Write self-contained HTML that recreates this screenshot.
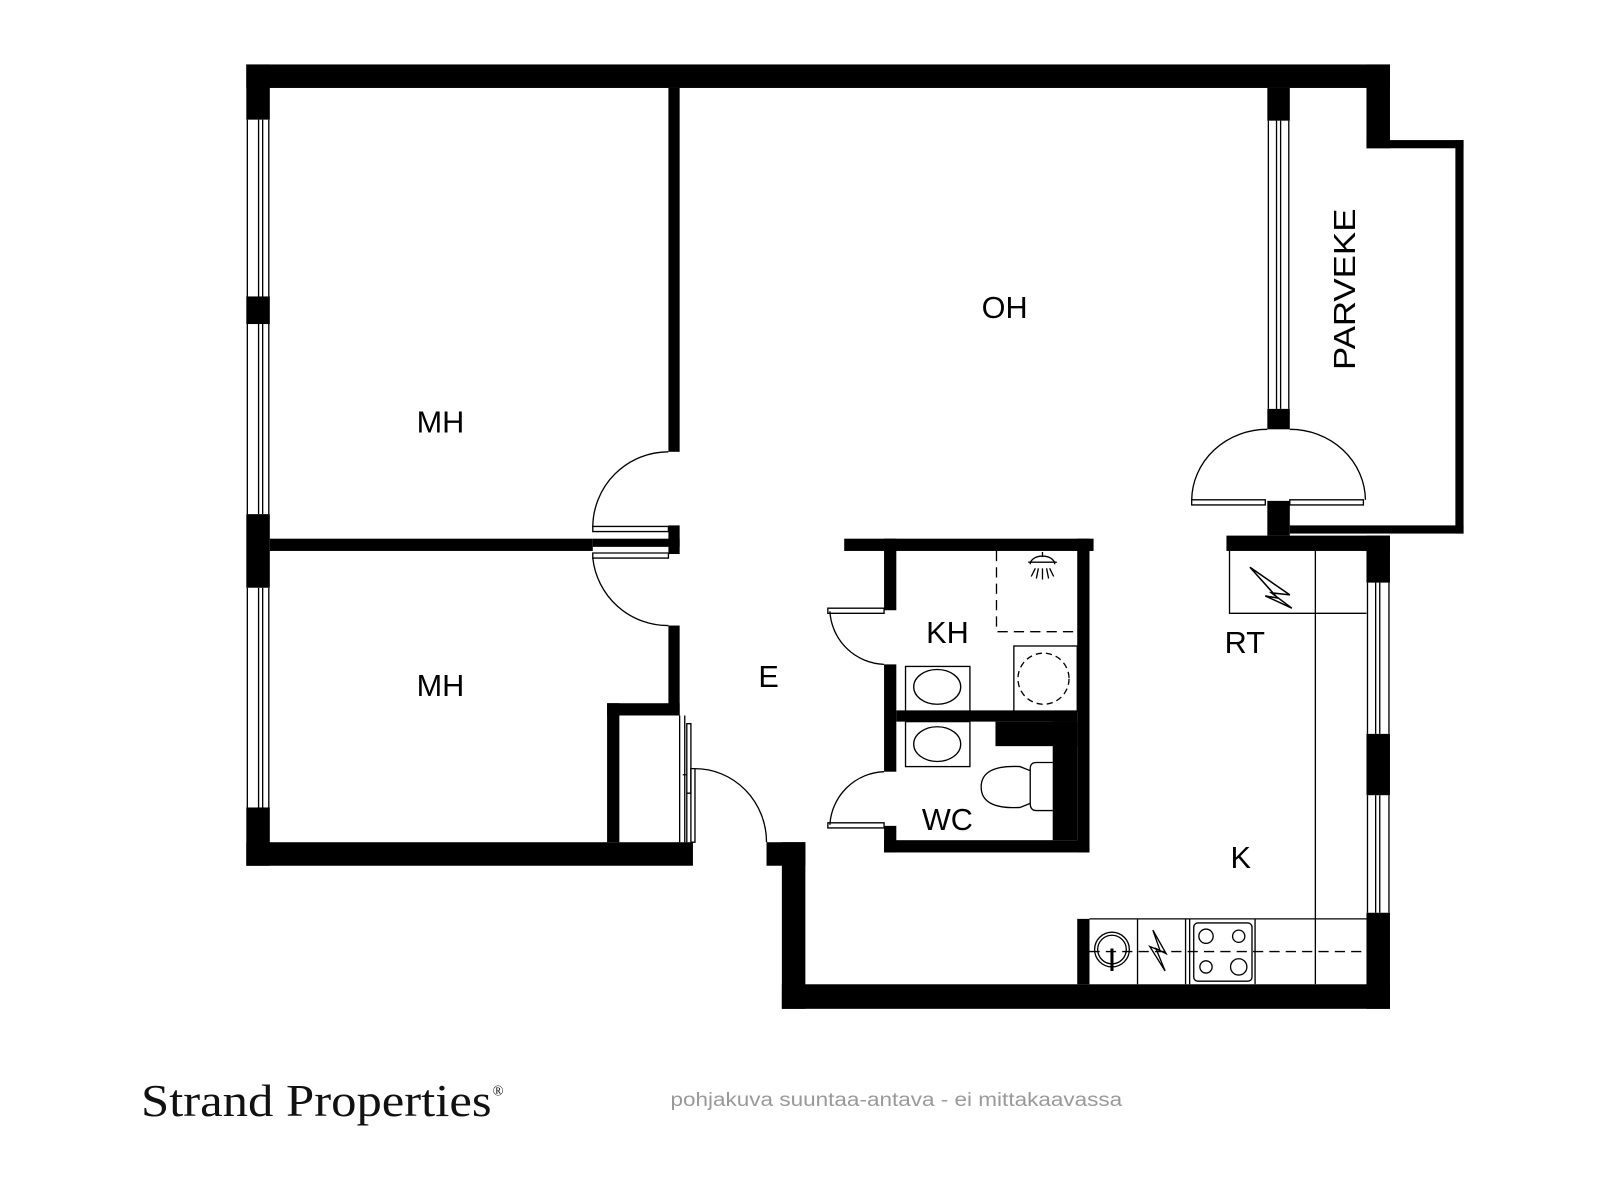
<!DOCTYPE html>
<html><head><meta charset="utf-8"><style>
html,body{margin:0;padding:0;background:#fff;}
svg{display:block}
</style></head><body>
<svg width="1600" height="1200" viewBox="0 0 1565.5 1174" xmlns="http://www.w3.org/2000/svg" font-family="Liberation Sans, sans-serif">
<rect width="1565.5" height="1174" fill="#fff"/>
<g fill="#000">
<rect x="241" y="63" width="1119" height="23"/>
<rect x="241" y="63" width="23" height="54"/>
<rect x="241" y="290" width="23" height="27"/>
<rect x="241" y="503" width="23" height="72"/>
<rect x="241" y="790" width="23" height="57"/>
<rect x="241" y="824" width="437" height="23"/>
<rect x="654" y="86" width="11" height="356"/>
<rect x="654" y="514" width="11" height="28"/>
<rect x="264" y="527" width="316" height="12"/>
<rect x="580" y="527" width="85" height="8"/>
<rect x="654" y="612" width="11" height="88"/>
<rect x="594" y="688" width="71" height="12"/>
<rect x="594" y="688" width="12" height="136"/>
<rect x="750" y="824" width="38" height="23"/>
<rect x="765" y="824" width="23" height="163"/>
<rect x="765" y="963" width="595" height="24"/>
<rect x="1337" y="524" width="23" height="46"/>
<rect x="1337" y="718" width="23" height="60"/>
<rect x="1337" y="893" width="23" height="94"/>
<rect x="1200" y="524" width="160" height="15"/>
<rect x="1240" y="86" width="22" height="32"/>
<rect x="1240" y="400" width="22" height="20"/>
<rect x="1240" y="490" width="22" height="34"/>
<rect x="1337" y="63" width="23" height="82"/>
<rect x="1337" y="137" width="95" height="8"/>
<rect x="1424" y="137" width="8" height="385"/>
<rect x="1262" y="514" width="170" height="8"/>
<rect x="826" y="527" width="244" height="12"/>
<rect x="865" y="527" width="12" height="70"/>
<rect x="865" y="650" width="12" height="105"/>
<rect x="865" y="808" width="12" height="26"/>
<rect x="1054" y="527" width="12" height="307"/>
<rect x="865" y="822" width="201" height="12"/>
<rect x="877" y="695" width="177" height="11"/>
<rect x="974" y="706" width="80" height="24"/>
<rect x="1030" y="706" width="24" height="116"/>
<rect x="1054" y="899" width="12" height="64"/>
</g>
<g fill="none" stroke="#000" stroke-width="1.3">
<path d="M242 117V290M263 117V290M253 117V290M257 117V290"/>
<path d="M242 317V503M263 317V503M253 317V503M257 317V503"/>
<path d="M242 575V790M263 575V790M253 575V790M257 575V790"/>
<path d="M1241 118V400M1261 118V400M1249 118V400M1253 118V400"/>
<path d="M1338 570V718M1359 570V718M1346 570V718M1350 570V718"/>
<path d="M1338 778V893M1359 778V893M1346 778V893M1350 778V893"/>
<path d="M580 515H654V520H580Z M580 541H654V546H580Z"/>
<path d="M654 442A74 74 0 0 0 580 516"/>
<path d="M654 612A74 74 0 0 1 580 546"/>
<path d="M665 700V824M670 700V824M672 708H676V776H672Z M668 758H672V824"/>
<path d="M676 752H680V824H676Z M680 752A70 72 0 0 1 750 824"/>
<path d="M1166 489H1238V494H1166Z M1262 489H1334V494H1262Z"/>
<path d="M1240 420A74 70 0 0 0 1166 489 M1262 420A74 70 0 0 1 1336 489"/>
<path d="M810 595H865V600H810Z M865 650A55 55 0 0 1 812 598"/>
<path d="M810 805H865V810H810Z M865 755A55 55 0 0 0 812 807"/>
<path d="M975 539V618H1054" stroke-dasharray="10 6"/>
<path d="M1006 550H1034M1020 540V545M1008 552A12 8 0 0 1 1032 552M1013 556L1009 564M1020 556V567M1027 556L1031 564M1016 556L1014 566M1024 556L1026 566"/>
<rect x="992" y="632" width="62" height="64"/>
<circle cx="1021" cy="664" r="25" stroke-dasharray="6 4"/>
<rect x="886" y="652" width="63" height="44"/>
<ellipse cx="917" cy="672" rx="23" ry="17"/>
<rect x="886" y="706" width="63" height="44"/>
<ellipse cx="917" cy="728" rx="23" ry="17"/>
<path d="M1030 746H1014Q1008 746 1008 752V786Q1008 793 1014 793H1030"/>
<path d="M1008 754L998 750Q960 748 960 770Q960 792 998 790L1008 786"/>
<path d="M1203 539V600H1337M1287 539V963"/>
<path d="M1223 555L1262 582L1244 580L1264 595L1238 583L1250 585Z" stroke-width="1.5"/>
<path d="M1066 899H1337"/>
<path d="M1113 899V963M1160 899V963M1164 899V963M1228 899V963"/>
<path d="M1066 931H1337" stroke-dasharray="10 6"/>
<rect x="1168" y="903" width="57" height="57" rx="4"/>
<circle cx="1180" cy="916" r="7"/><circle cx="1212" cy="916" r="6"/>
<circle cx="1180" cy="946" r="6"/><circle cx="1212" cy="946" r="8"/>
<circle cx="1088" cy="929" r="17"/><circle cx="1088" cy="929" r="14"/>
<path d="M1088 928V950" stroke-width="3"/>
<path d="M1128 910L1141 933L1131 928L1140 950L1125 926L1135 930Z"/>
</g>
<g font-size="30" fill="#000" text-anchor="middle">
<text x="983" y="311">OH</text>
<text x="431" y="423">MH</text>
<text x="431" y="681">MH</text>
<text x="752" y="672">E</text>
<text x="927" y="629">KH</text>
<text x="927" y="812">WC</text>
<text x="1218" y="639">RT</text>
<text x="1214" y="849">K</text>
<text transform="translate(1326,283) rotate(-90)" textLength="158" lengthAdjust="spacingAndGlyphs">PARVEKE</text>
</g>
<text x="138" y="1092" font-family="Liberation Serif, serif" font-size="45" fill="#111" textLength="343" lengthAdjust="spacingAndGlyphs">Strand Properties</text>
<text x="482" y="1072" font-family="Liberation Serif, serif" font-size="14" fill="#111">®</text>
<text x="656" y="1082" font-size="19" fill="#999" textLength="442" lengthAdjust="spacingAndGlyphs">pohjakuva suuntaa-antava - ei mittakaavassa</text>
</svg>
</body></html>
